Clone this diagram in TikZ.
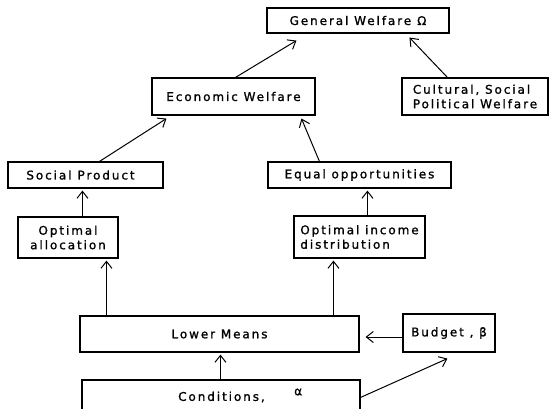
\documentclass[tikz,border=0pt]{standalone}
\usepackage{fontspec}
\setmainfont{DejaVu Sans}[LetterSpace=16,FakeBold=1.2]
\usetikzlibrary{calc,arrows.meta}
\begin{document}
\begin{tikzpicture}[x=1pt,y=1pt,
  box/.style={draw, line width=1.1pt, rectangle, inner sep=0pt, align=center, font=\fontsize{12}{14.5}\selectfont},
  txt/.style={font=\fontsize{12}{14.5}\selectfont, inner sep=0pt},
  arr/.style={line width=1pt, -{Straight Barb[length=7pt,width=11pt,line width=1pt]}}]
\useasboundingbox (0,0) rectangle (557,-408);
\clip (0,0) rectangle (557,-408);
\node[box, minimum width=182pt, minimum height=25pt] (gw) at (358,-20.5) {General Welfare\enspace Ω};
\node[box, minimum width=146pt, minimum height=37pt, align=left] (cs) at (475,-96.5) {Cultural, Social\\Political Welfare};
\node[box, minimum width=163pt, minimum height=37pt] (ew) at (233.5,-96.5) {Economic Welfare};
\node[box, minimum width=155pt, minimum height=26pt] (sp) at (85.5,-175) {Social\enspace Product\hspace{10pt}};
\node[box, minimum width=183pt, minimum height=26pt] (eo) at (359.5,-175) {Equal opportunities};
\node[box, minimum width=100pt, minimum height=41pt] (oa) at (68,-237.5) {Optimal\\allocation};
\node[box, minimum width=131pt, minimum height=42pt, align=left] (oi) at (359.5,-237) {Optimal income\\distribution};
\node[box, minimum width=279pt, minimum height=36pt] (lm) at (219.5,-334) {Lower Means};
\node[box, minimum width=92pt, minimum height=38pt] (bu) at (449,-333) {Budget , β};
\node[box, minimum width=278pt, minimum height=50pt] (co) at (221,-405) {};
\node[txt, anchor=west] (cot) at (178,-397) {Conditions,};
\node[txt, anchor=west] (al) at (294,-392) {α};
% arrows
\draw[arr] ($(ew.north west)+(84,0)$) -- ($(gw.south west)+(30,-7)$);
\draw[arr] ($(cs.north west)+(46,0)$) -- ($(gw.south west)+(143,-4)$);
\draw[arr] ($(sp.north west)+(92,0)$) -- ($(ew.south west)+(15,-3)$);
\draw[arr] ($(eo.north west)+(52,0)$) -- ($(ew.south west)+(150,-3)$);
\draw[arr] ($(oa.north west)+(65,0)$) -- ($(sp.south west)+(75,-2)$);
\draw[arr] ($(oi.north west)+(74,0)$) -- ($(eo.south west)+(100,-2)$);
\draw[arr] ($(lm.north west)+(27,0)$) -- ($(oa.south west)+(89,-2)$);
\draw[arr] ($(lm.north west)+(254,0)$) -- ($(oi.south west)+(40,-2)$);
\draw[arr] ($(bu.west)+(0,-4)$) -- ($(lm.east)+(6,-3)$);
\draw[arr] ($(co.north west)+(139,0)$) -- ($(lm.south west)+(141,-2)$);
\draw[arr] ($(co.north east)+(0,-18)$) -- ($(bu.south west)+(45,-6)$);
\end{tikzpicture}
\end{document}
